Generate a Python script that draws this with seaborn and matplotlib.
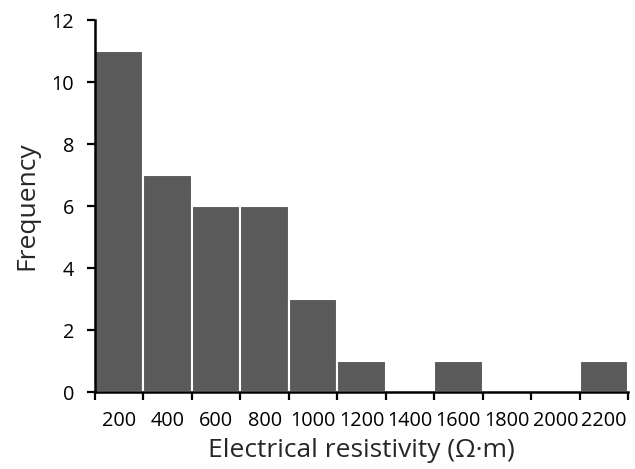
import matplotlib
matplotlib.use("Agg")
import matplotlib.pyplot as plt
import seaborn as sns
import pandas as pd
import numpy as np

bins = ["200", "400", "600", "800", "1000", "1200", "1400", "1600", "1800", "2000", "2200"]
freq = [11, 7, 6, 6, 3, 1, 0, 1, 0, 0, 1]
yticks = [0, 2, 4, 6, 8, 10, 12]

sns.set_theme(style="ticks")
plt.rcParams['font.family'] = ['Open Sans', 'DejaVu Sans']

fig = plt.figure(figsize=(6.35, 4.69), dpi=100)
ax = fig.add_axes([95/635, 1 - 392/469, 533/635, (392 - 20)/469])

df = pd.DataFrame({"bin": bins, "freq": freq})
sns.barplot(data=df, x="bin", y="freq", order=bins, color="#5a5a5a", saturation=1,
            width=1.0, edgecolor="white", linewidth=1.5, ax=ax)

ax.set_xlim(-0.5, len(bins) - 0.5)
ax.set_ylim(0, 12)
ax.set_yticks(yticks)
ax.set_xticks(np.arange(len(bins)))
ax.set_xticklabels(bins)
ax.set_xticks(np.arange(len(bins) + 1) - 0.5, minor=True)
ax.tick_params(axis="x", which="major", length=0, pad=14, labelsize=14.3, colors="black")
ax.tick_params(axis="x", which="minor", length=6, width=1.6, direction="out", color="black")
ax.tick_params(axis="y", length=6, width=1.6, direction="out", labelsize=14.3, colors="black", pad=9)

for s in ["top", "right"]:
    ax.spines[s].set_visible(False)
for s in ["left", "bottom"]:
    ax.spines[s].set_linewidth(1.8)
    ax.spines[s].set_color("black")

ax.set_xlabel("Electrical resistivity (\u03a9\u00b7m)", fontsize=19, labelpad=5)
ax.set_ylabel("Frequency", fontsize=19, labelpad=9)

fig.savefig("out.png", dpi=100)
